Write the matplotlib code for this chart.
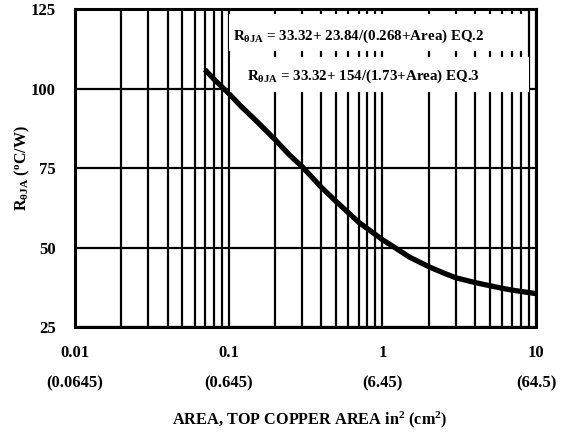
import matplotlib
matplotlib.use("Agg")
import matplotlib.pyplot as plt
from matplotlib.patches import Rectangle
from matplotlib.ticker import LogLocator, NullFormatter, FixedLocator

plt.rcParams["font.family"] = ["Liberation Serif", "DejaVu Serif"]
plt.rcParams["font.weight"] = "bold"
plt.rcParams["mathtext.fontset"] = "custom"
plt.rcParams["mathtext.rm"] = "Liberation Serif:bold"
plt.rcParams["mathtext.it"] = "Liberation Serif:bold"
plt.rcParams["mathtext.bf"] = "Liberation Serif:bold"

# Curve (area in square inches, R in degC/W)
area = [0.07, 0.08, 0.1, 0.12, 0.15, 0.2, 0.25, 0.3, 0.4, 0.5, 0.6, 0.7, 0.85,
        1.0, 1.25, 1.5, 2.0, 2.5, 3.0, 4.0, 5.0, 6.0, 7.0, 8.5, 10.0]
r_theta = [106, 103, 98.5, 94.5, 90, 84, 79, 75.5, 69, 64.5, 61, 58, 55,
           52.5, 49.5, 47, 44, 42, 40.5, 39, 38, 37.2, 36.6, 36, 35.5]

x_ticks = [0.01, 0.1, 1, 10]
x_top_labels = ["0.01", "0.1", "1", "10"]
x_cm_labels = ["(0.0645)", "(0.645)", "(6.45)", "(64.5)"]
y_ticks = [25, 50, 75, 100, 125]

eq2 = r"R$_{\theta JA}$ = 33.32+ 23.84/(0.268+Area) EQ.2"
eq3 = r"R$_{\theta JA}$ = 33.32+ 154/(1.73+Area) EQ.3"

fig = plt.figure(figsize=(5.65, 4.32), dpi=100)
ax = fig.add_axes([0.1327, 0.243, 0.816, 0.736])

ax.set_xscale("log")
ax.set_xlim(0.01, 10)
ax.set_ylim(25, 125)

ax.xaxis.set_major_locator(FixedLocator(x_ticks))
ax.xaxis.set_minor_locator(LogLocator(base=10, subs=range(2, 10)))
ax.xaxis.set_major_formatter(NullFormatter())
ax.xaxis.set_minor_formatter(NullFormatter())
ax.set_yticks(y_ticks)
ax.set_yticklabels([str(v) for v in y_ticks], fontsize=12, fontweight="bold")
ax.tick_params(axis="both", which="both", length=0)
ax.tick_params(axis="y", pad=14)

ax.grid(True, which="both", axis="x", color="black", linewidth=1.6)
ax.grid(True, which="major", axis="y", color="black", linewidth=1.6)
for s in ax.spines.values():
    s.set_linewidth(2.2)

ax.plot(area, r_theta, color="black", linewidth=3.8, solid_capstyle="butt",
        solid_joinstyle="round", zorder=3)

# white boxes behind the equations
ax.add_patch(Rectangle((0.334, 0.868), 0.646, 0.116, transform=ax.transAxes,
                       facecolor="white", edgecolor="none", zorder=4))
ax.add_patch(Rectangle((0.337, 0.739), 0.648, 0.110, transform=ax.transAxes,
                       facecolor="white", edgecolor="none", zorder=4))
ax.text(0.343, 0.915, eq2, transform=ax.transAxes, fontsize=10.8, fontweight="bold",
        va="center", ha="left", zorder=5)
ax.text(0.373, 0.790, eq3, transform=ax.transAxes, fontsize=10.8, fontweight="bold",
        va="center", ha="left", zorder=5)

# two-row x tick labels (inches over cm)
trans = ax.get_xaxis_transform()
for xv, top, cm in zip(x_ticks, x_top_labels, x_cm_labels):
    ax.text(xv, -0.082, top, transform=trans, ha="center", va="center",
            fontsize=12, fontweight="bold")
    ax.text(xv, -0.176, cm, transform=trans, ha="center", va="center",
            fontsize=12, fontweight="bold")

fig.text(0.549, 0.028, r"AREA, TOP COPPER AREA in$^2$ (cm$^2$)", ha="center",
         va="center", fontsize=11.7, fontweight="bold")
fig.text(0.039, 0.61, r"R$_{\theta JA}$ ($^{\mathrm{o}}$C/W)", rotation=90,
         ha="center", va="center", fontsize=11.5, fontweight="bold")

fig.savefig("out.png", dpi=100)
